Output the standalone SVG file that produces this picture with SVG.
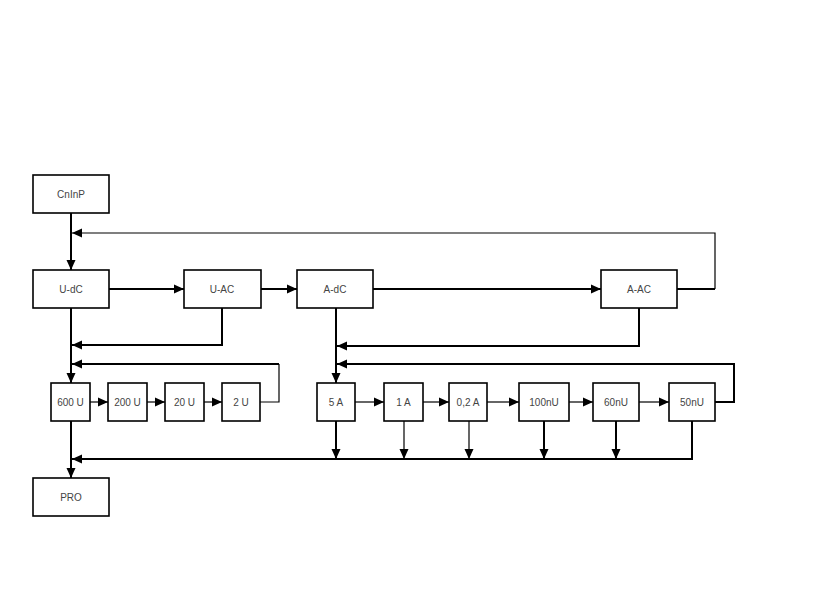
<svg xmlns="http://www.w3.org/2000/svg" width="840" height="594" viewBox="0 0 840 594">
<style>
.box{fill:#fff;stroke:#000;stroke-width:1.6}
.t{font-family:"Liberation Sans",Arial,sans-serif;font-size:10px;fill:#444;text-anchor:middle;dominant-baseline:central}
.c{fill:none;stroke:#000;stroke-width:2}
.c1{fill:none;stroke:#000;stroke-width:1.2}
</style>
<defs>
<marker id="a" markerUnits="userSpaceOnUse" markerWidth="10" markerHeight="10" refX="10" refY="5" orient="auto" viewBox="0 0 10 10">
<path d="M0,0.5 L10,5 L0,9.5 z" fill="#000"/>
</marker>
</defs>
<rect width="840" height="594" fill="#fff"/>
<g id="connectors">
<path class="c" d="M71,213 V270" marker-end="url(#a)"/>
<path class="c" d="M677,289 H715"/>
<path class="c1" d="M715,289 V233 H72" marker-end="url(#a)"/>
<path class="c" d="M109,289 H184" marker-end="url(#a)"/>
<path class="c" d="M261,289 H297" marker-end="url(#a)"/>
<path class="c" d="M373,289 H601" marker-end="url(#a)"/>
<path class="c" d="M71,308 V383" marker-end="url(#a)"/>
<path class="c" d="M222,308 V345 H72" marker-end="url(#a)"/>
<path class="c1" d="M260,402 H279 V364"/>
<path class="c" d="M279,364 H72" marker-end="url(#a)"/>
<path class="c1" d="M90,402 H108" marker-end="url(#a)"/>
<path class="c1" d="M147,402 H165" marker-end="url(#a)"/>
<path class="c1" d="M204,402 H222" marker-end="url(#a)"/>
<path class="c" d="M71,421 V478" marker-end="url(#a)"/>
<path class="c" d="M692,421 V459 H72" marker-end="url(#a)"/>
<path class="c" d="M336,308 V383" marker-end="url(#a)"/>
<path class="c" d="M639,308 V346 H337" marker-end="url(#a)"/>
<path class="c" d="M715,402 H734 V364 H337" marker-end="url(#a)"/>
<path class="c1" d="M355,402 H384" marker-end="url(#a)"/>
<path class="c1" d="M423,402 H449" marker-end="url(#a)"/>
<path class="c1" d="M487,402 H519" marker-end="url(#a)"/>
<path class="c1" d="M569,402 H593" marker-end="url(#a)"/>
<path class="c1" d="M639,402 H669" marker-end="url(#a)"/>
<path class="c" d="M336,421 V459" marker-end="url(#a)"/>
<path class="c1" d="M404,421 V459" marker-end="url(#a)"/>
<path class="c1" d="M469,421 V459" marker-end="url(#a)"/>
<path class="c" d="M544,421 V459" marker-end="url(#a)"/>
<path class="c" d="M616,421 V459" marker-end="url(#a)"/>
</g>
<g id="CnInP"><rect class="box" x="33" y="175" width="76" height="38"/><text class="t" x="71" y="194">CnInP</text></g>
<g id="U-dC"><rect class="box" x="33" y="270" width="76" height="38"/><text class="t" x="71" y="289">U-dC</text></g>
<g id="U-AC"><rect class="box" x="184" y="270" width="77" height="38"/><text class="t" x="222" y="289">U-AC</text></g>
<g id="A-dC"><rect class="box" x="297" y="270" width="76" height="38"/><text class="t" x="335" y="289">A-dC</text></g>
<g id="A-AC"><rect class="box" x="601" y="270" width="76" height="38"/><text class="t" x="639" y="289">A-AC</text></g>
<g id="n600U"><rect class="box" x="51" y="383" width="39" height="38"/><text class="t" x="70.5" y="402">600 U</text></g>
<g id="n200U"><rect class="box" x="108" y="383" width="39" height="38"/><text class="t" x="127.5" y="402">200 U</text></g>
<g id="n20U"><rect class="box" x="165" y="383" width="39" height="38"/><text class="t" x="184.5" y="402">20 U</text></g>
<g id="n2U"><rect class="box" x="222" y="383" width="38" height="38"/><text class="t" x="241" y="402">2 U</text></g>
<g id="n5A"><rect class="box" x="317" y="383" width="38" height="38"/><text class="t" x="336" y="402">5 A</text></g>
<g id="n1A"><rect class="box" x="384" y="383" width="39" height="38"/><text class="t" x="403.5" y="402">1 A</text></g>
<g id="n02A"><rect class="box" x="449" y="383" width="38" height="38"/><text class="t" x="468" y="402">0,2 A</text></g>
<g id="n100nU"><rect class="box" x="519" y="383" width="50" height="38"/><text class="t" x="544" y="402">100nU</text></g>
<g id="n60nU"><rect class="box" x="593" y="383" width="46" height="38"/><text class="t" x="616" y="402">60nU</text></g>
<g id="n50nU"><rect class="box" x="669" y="383" width="46" height="38"/><text class="t" x="692" y="402">50nU</text></g>
<g id="PRO"><rect class="box" x="33" y="478" width="76" height="38"/><text class="t" x="71" y="497">PRO</text></g>
</svg>
